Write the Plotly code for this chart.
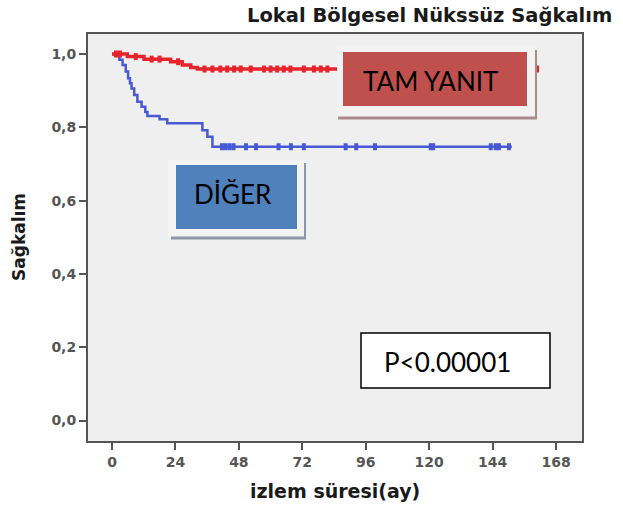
import numpy as np
import plotly.graph_objects as go

# ---------------- data ----------------
title_text = "Lokal Bölgesel Nükssüz Sağkalım"
x_title = "izlem süresi(ay)"
y_title = "Sağkalım"
x_ticks = [0, 24, 48, 72, 96, 120, 144, 168]
y_ticks = [0.0, 0.2, 0.4, 0.6, 0.8, 1.0]
y_tick_labels = ["0,0", "0,2", "0,4", "0,6", "0,8", "1,0"]

# TAM YANIT (complete response) - Kaplan-Meier steps
tam_times = [0, 5.8, 12.1, 22.2, 26.6, 29.8, 32.3]
tam_surv = [1.0, 0.993, 0.986, 0.979, 0.970, 0.963, 0.959]
tam_end = 161.5
tam_censor = [1.5, 3.0, 9.0, 15.0, 18.0, 25.0, 35.0, 38.0, 41.0, 43.6, 46.2,
              48.7, 52.5, 57.5, 60.0, 62.5, 65.0, 67.5, 72.6, 76.4, 79.0, 81.5,
              90.0, 100.0, 115.0, 130.0, 145.0, 160.8]

# DİĞER (other)
dig_times = [0, 2.8, 4.0, 5.2, 6.1, 6.8, 7.4, 8.4, 9.6, 11.2, 12.6, 13.4,
             18.0, 20.9, 34.2, 36.1, 38.0]
dig_surv = [1.0, 0.984, 0.970, 0.952, 0.934, 0.920, 0.906, 0.888, 0.870,
            0.856, 0.842, 0.831, 0.822, 0.811, 0.792, 0.774, 0.747]
dig_end = 151.3
dig_censor = [41.6, 43.0, 44.5, 46.0, 50.7, 54.5, 63.0, 67.7, 72.6, 88.4,
              92.4, 99.5, 120.6, 121.5, 143.3, 145.2, 146.4, 150.2]

label_tam = "TAM YANIT"
label_dig = "DİĞER"
p_text = "P<0.00001"

# ---------------- helpers ----------------
W, H = 623, 506
L, R, T, B = 88, 582, 34, 441  # plot frame in pixels
X0_PX, X_PER = 112.0, 2.643     # pixel of month 0, pixels per month
Y1_PX, Y0_PX = 54.0, 420.5      # pixel of survival 1.0 and 0.0


def px(x):
    return (x - L) / (R - L)


def py(y):
    return (B - y) / (B - T)


def step_xy(times, surv, end):
    xs = list(times) + [end]
    ys = list(surv) + [surv[-1]]
    return xs, ys


def surv_at(times, surv, t):
    idx = np.searchsorted(np.array(times), np.array(t), side="right") - 1
    return list(np.array(surv)[idx])


RED = "#E8232B"
BLUE = "#4759D3"

fig = go.Figure()

dx, dy = step_xy(dig_times, dig_surv, dig_end)
fig.add_trace(go.Scatter(x=dx, y=dy, mode="lines", line=dict(color=BLUE, width=2.5, shape="hv"),
                         hoverinfo="skip", showlegend=False))
fig.add_trace(go.Scatter(x=dig_censor, y=surv_at(dig_times, dig_surv, dig_censor), mode="markers",
                         marker=dict(symbol="line-ns", size=5, line=dict(color=BLUE, width=4)),
                         showlegend=False))

tx, ty = step_xy(tam_times, tam_surv, tam_end)
fig.add_trace(go.Scatter(x=tx, y=ty, mode="lines", line=dict(color=RED, width=3.5, shape="hv"),
                         hoverinfo="skip", showlegend=False))
fig.add_trace(go.Scatter(x=tam_censor, y=surv_at(tam_times, tam_surv, tam_censor), mode="markers",
                         marker=dict(symbol="line-ns", size=5, line=dict(color=RED, width=4)),
                         showlegend=False))

shapes = []


def rect(x0, y0, x1, y1, fill, line_color=None, lw=0):
    shapes.append(dict(type="rect", xref="paper", yref="paper", layer="above",
                       x0=px(x0), x1=px(x1), y0=py(y1), y1=py(y0), fillcolor=fill,
                       line=dict(color=line_color or fill, width=lw)))


def seg(x0, y0, x1, y1, color, lw):
    shapes.append(dict(type="line", xref="paper", yref="paper", layer="above",
                       x0=px(x0), x1=px(x1), y0=py(y0), y1=py(y1),
                       line=dict(color=color, width=lw)))


# TAM YANIT box with shadow
rect(337, 45, 537, 118, "#F2F2F2")
seg(536, 50, 536, 119, "#A98A8A", 2)
seg(338, 118, 537, 118, "#A98A8A", 3)
rect(343, 52, 527, 106, "#C0504D")
# DİĞER box with shadow
rect(168, 160, 306, 237, "#F3F3F3")
seg(305, 163, 305, 239, "#8D97A6", 2)
seg(171, 238, 306, 238, "#8D97A6", 3)
rect(176, 165, 297, 229, "#4F81BD")
# P value box
rect(361, 333, 550, 388, "white", "black", 1.5)

annotations = [
    dict(text="<b>%s</b>" % title_text, xref="paper", yref="paper", x=px(429), y=py(16),
         xanchor="center", yanchor="middle", showarrow=False,
         font=dict(family="DejaVu Sans", size=19.5, color="#1a1a1a")),
    dict(text="<b>%s</b>" % x_title, xref="paper", yref="paper", x=px(335), y=py(491),
         xanchor="center", yanchor="middle", showarrow=False,
         font=dict(family="DejaVu Sans", size=19, color="#1a1a1a")),
    dict(text="<b>%s</b>" % y_title, xref="paper", yref="paper", x=px(19), y=py(237),
         xanchor="center", yanchor="middle", showarrow=False, textangle=-90,
         font=dict(family="DejaVu Sans", size=17, color="#1a1a1a")),
    dict(text=label_tam, xref="paper", yref="paper", x=px(430), y=py(81),
         xanchor="center", yanchor="middle", showarrow=False,
         font=dict(family="Lato", size=26, color="black")),
    dict(text=label_dig, xref="paper", yref="paper", x=px(233), y=py(194),
         xanchor="center", yanchor="middle", showarrow=False,
         font=dict(family="Lato", size=26, color="black")),
    dict(text=p_text, xref="paper", yref="paper", x=px(382), y=py(362),
         xanchor="left", yanchor="middle", showarrow=False,
         font=dict(family="Lato", size=26, color="black")),
]

x0v = (L - X0_PX) / X_PER
x1v = (R - X0_PX) / X_PER
per_unit = Y0_PX - Y1_PX
y_top = 1.0 + (Y1_PX - T) / per_unit
y_bot = -(B - Y0_PX) / per_unit

fig.update_layout(
    width=W, height=H,
    margin=dict(l=L, r=W - R, t=T, b=H - B, pad=0, autoexpand=False),
    paper_bgcolor="white", plot_bgcolor="#EFEFEF",
    shapes=shapes, annotations=annotations,
    font=dict(family="DejaVu Sans"),
    xaxis=dict(range=[x0v, x1v], tickvals=x_ticks, ticks="outside", ticklen=7, tickwidth=2,
               tickcolor="#555", showline=True, linecolor="#555", linewidth=2, mirror=True,
               showgrid=False, zeroline=False, automargin=False,
               tickfont=dict(family="DejaVu Sans", size=14, color="#555", weight="bold")),
    yaxis=dict(range=[y_bot, y_top], tickvals=y_ticks, ticktext=y_tick_labels, ticks="outside",
               ticklen=7, tickwidth=2, tickcolor="#555", showline=True, linecolor="#555",
               linewidth=2, mirror=True, showgrid=False, zeroline=False, automargin=False,
               tickfont=dict(family="DejaVu Sans", size=14, color="#555", weight="bold")),
)

fig.write_html("out.html", config={"displayModeBar": False},
               post_script="document.body.style.margin='0';")
